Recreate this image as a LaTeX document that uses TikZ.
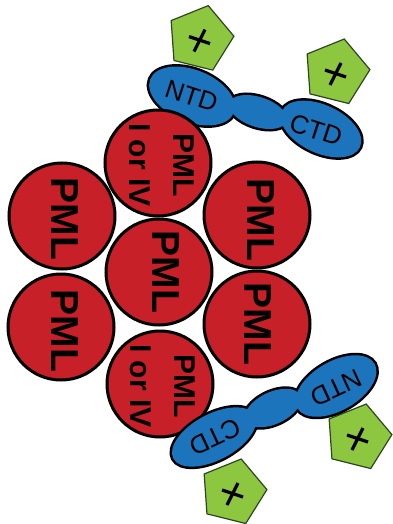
\documentclass[tikz,border=0pt]{standalone}
\usepackage{fontspec}
\setmainfont{Liberation Sans}
\usetikzlibrary{shapes.geometric,calc}
\definecolor{pmlred}{RGB}{200,32,40}
\definecolor{domblue}{RGB}{28,117,188}
\definecolor{pentgreen}{RGB}{141,198,63}
\definecolor{pentedge}{RGB}{45,70,35}
\begin{document}
\begin{tikzpicture}[x=1pt,y=-1pt,
  pml/.style={circle, draw=black, line width=3pt, fill=pmlred, minimum size=106pt, inner sep=0pt},
  biglbl/.style={rotate=-90, font=\fontsize{39}{39}\selectfont\bfseries, inner sep=0pt},
  smalllbl/.style={rotate=-90, align=center, font=\fontsize{30}{44}\selectfont\bfseries, inner sep=0pt},
  domedge/.style={ellipse, draw=black, line width=5pt, fill=domblue, inner sep=0pt},
  domfill/.style={ellipse, fill=domblue, inner sep=0pt},
  domlbl/.style={font=\fontsize{26}{26}\selectfont, inner sep=0pt},
  pent/.style={regular polygon, regular polygon sides=5, minimum size=68pt, inner sep=0pt, fill=pentgreen, draw=pentedge, line width=1.2pt, rotate=-14},
  crossline/.style={draw=black, line width=3.2pt}
]
\useasboundingbox (0,0) rectangle (392,524);

% pentagons with cross marks
\foreach \p/\c in {p1/{200,38.6}, p2/{336,72}, p3/{358,437}, p4/{233,492}} {
  \node[pent] (\p) at (\c) {};
  \draw[crossline] ($(\p)+(-11,-2)$) -- ($(\p)+(10,5)$);
  \draw[crossline] ($(\p)+(5,-9)$) -- ($(\p)+(-6,13)$);
}

% top dumbbell
\node[domedge, minimum width=90pt, minimum height=52pt, rotate=-22] (tn) at (192,96) {};
\node[domedge, minimum width=60pt, minimum height=30pt, rotate=-18] (tm) at (258,112) {};
\node[domedge, minimum width=86pt, minimum height=48pt, rotate=-25] (tc) at (321,129) {};
\node[domfill, minimum width=90pt, minimum height=52pt, rotate=-22] at (tn) {};
\node[domfill, minimum width=60pt, minimum height=30pt, rotate=-18] at (tm) {};
\node[domfill, minimum width=86pt, minimum height=48pt, rotate=-25] at (tc) {};
\node[domlbl, rotate=-18] (tnl) at (191.5,96) {NTD};
\node[domlbl, rotate=-18] (tcl) at (316,130) {CTD};

% PML circles
\node[pml] (ct) at (158,163) {};
\node[pml] (clt) at (62,216) {};
\node[pml] (crt) at (257,215) {};
\node[pml] (cc) at (159,272) {};
\node[pml] (clb) at (61,327) {};
\node[pml] (crb) at (257,324) {};
\node[pml] (cb) at (160,384) {};

\node[smalllbl] (lt) at (162,165) {PML\\I or IV};
\node[biglbl] (llt) at (65,219) {PML};
\node[biglbl] (lrt) at (261,220) {PML};
\node[biglbl] (lc) at (166,272) {PML};
\node[biglbl] (llb) at (65,331) {PML};
\node[biglbl] (lrb) at (258,324) {PML};
\node[smalllbl] (lb) at (163,386) {PML\\I or IV};

% bottom dumbbell
\node[domedge, minimum width=89pt, minimum height=49pt, rotate=30] (bn) at (336,386) {};
\node[domedge, minimum width=60pt, minimum height=32pt, rotate=25] (bm) at (273,408) {};
\node[domedge, minimum width=92pt, minimum height=46pt, rotate=28] (bc) at (214,437) {};
\node[domfill, minimum width=89pt, minimum height=49pt, rotate=30] at (bn) {};
\node[domfill, minimum width=60pt, minimum height=32pt, rotate=25] at (bm) {};
\node[domfill, minimum width=92pt, minimum height=46pt, rotate=28] at (bc) {};
\node[domlbl, rotate=205] (bnl) at (336,388) {NTD};
\node[domlbl, rotate=205] (bcl) at (215,437) {CTD};
\end{tikzpicture}
\end{document}
